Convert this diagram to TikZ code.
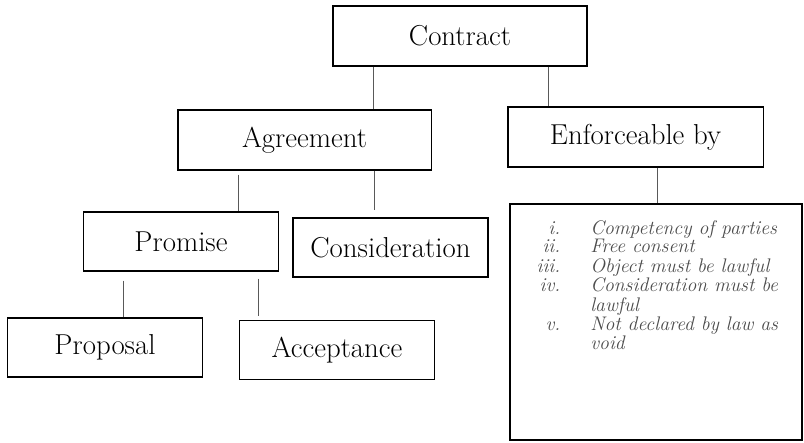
\documentclass[tikz,border=0pt]{standalone}
\usepackage{array}
\begin{document}
\begin{tikzpicture}[x=0.025cm,y=-0.025cm,align=center]
\tikzstyle{box}=[draw=black,line width=0.9pt,inner sep=0pt,minimum height=1.5cm,font=\fontsize{20.5}{24}\selectfont]
\tikzstyle{small}=[box,minimum width=4.87cm,minimum height=1.48cm]
\tikzstyle{link}=[draw=black!65,line width=0.7pt]

\useasboundingbox (0,0) rectangle (804,442);

\node[box,minimum width=6.35cm] (contract) at (460,36) {Contract};
\node[box,minimum width=6.33cm] (agreement) at (304.5,140) {Agreement};
\node[box,minimum width=6.38cm] (enforce) at (635.5,137) {Enforceable by};
\node[small] (promise) at (181,241.5) {Promise};
\node[small] (consider) at (390.5,247.5) {Consideration};
\node[small] (proposal) at (105,347.5) {Proposal};
\node[small] (accept) at (337,350) {Acceptance};
\node[draw=black,line width=0.9pt,minimum width=7.3cm,minimum height=5.9cm] (conds) at (656,322) {};
\node[anchor=base west,inner sep=0pt,text=black!70,align=left,
      font=\fontsize{14}{13.2}\selectfont\itshape] (condlist) at (520,234) {%
  \begin{tabular}[t]{@{}>{\raggedleft\arraybackslash}p{1cm}@{\hspace{0.75cm}}l@{}}
  i.   & Competency of parties \\
  ii.  & Free consent \\
  iii. & Object must be lawful \\
  iv.  & Consideration must be \\
       & lawful \\
  v.   & Not declared by law as \\
       & void
  \end{tabular}};

\path
  (contract.south -| 373,0) edge [link] (agreement.north -| 373,0)
  (contract.south -| 548,0) edge [link] (enforce.north -| 548,0)
  (agreement.south -| 238,0) edge [link,shorten <=0.1cm] (promise.north -| 238,0)
  (agreement.south -| 374,0) edge [link,shorten >=0.17cm] (consider.north -| 374,0)
  (enforce.south -| 657,0) edge [link] (conds.north -| 657,0)
  (promise.south -| 123,0) edge [link,shorten <=0.22cm] (proposal.north -| 123,0)
  (promise.south -| 258,0) edge [link,shorten <=0.17cm,shorten >=0.1cm] (accept.north -| 258,0);
\end{tikzpicture}
\end{document}
